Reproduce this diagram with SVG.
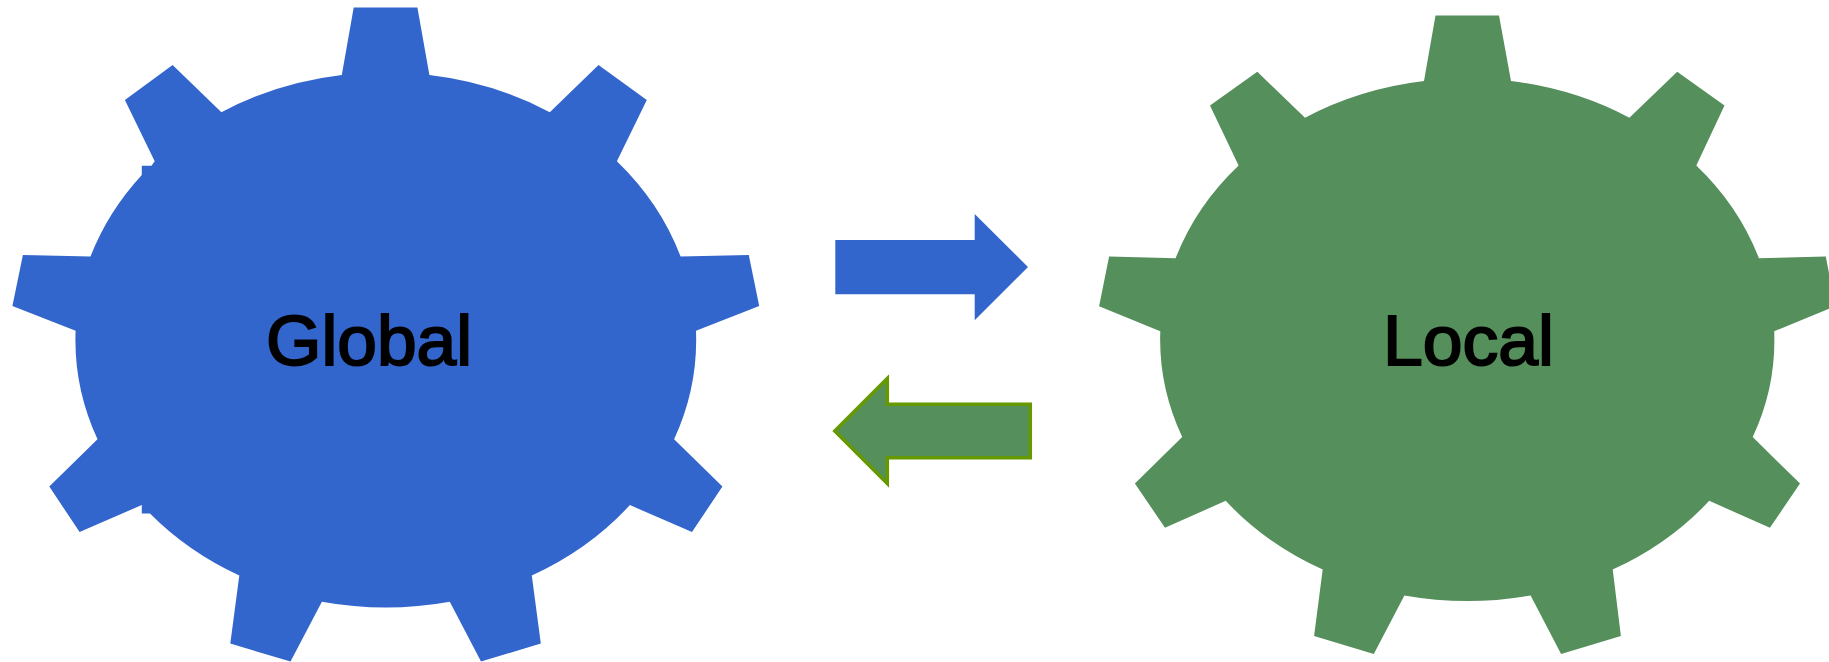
<svg xmlns="http://www.w3.org/2000/svg" width="1829" height="662" viewBox="0 0 1829 662">
<style>
.blue{fill:#3366cc}
.green{fill:#558f5c}
.label{font-family:"Liberation Sans",Arial,sans-serif;font-size:70px;fill:#000;stroke:#000;stroke-width:2px}
</style>
<rect width="1829" height="662" fill="#fff"/>
<g id="node-global">
<path class="blue" d="M353.7 7.6H417.4L429.4 75.1A310 268 0 0 1 549.8 112.2L598.5 65L646.8 100L616.9 161.2A310 268 0 0 1 680.6 256.5L748.8 254.9L759.2 305.9L696 330.8A310 268 0 0 1 674.1 439.2L722.4 486.5L692 532.1L629.9 505.1A310 268 0 0 1 531.8 575.5L540.8 643.5L481 661.6L449.8 601.7A310 268 0 0 1 321.9 601.7L290.5 661.6L230.3 643.5L239.3 575.5A310 268 0 0 1 150 513.5H141.8V505L79.6 532.1L49.3 486.5L97.5 439.2A310 268 0 0 1 75.6 330.8L12.4 305.9L22.9 254.9L90.5 256.5A310 268 0 0 1 141.8 175V165.8H151.5L154.7 161.2L124.9 100L172.6 65L221.4 112.2A310 268 0 0 1 341.8 75.1Z"/>
<text class="label" x="266" y="364.5" textLength="206" lengthAdjust="spacingAndGlyphs">Global</text>
</g>
<g id="node-local">
<path class="green" d="M1435.5 15.6H1499L1511 81A307 262 0 0 1 1629.4 117.7L1677.2 71.7L1724.5 105.5L1696.3 165.4A307 262 0 0 1 1758.9 258.2L1825.8 256.5L1835.3 306.3L1774.2 331.2A307 262 0 0 1 1752.7 437.1L1800 483.5L1769.9 527.8L1709.2 500.8A307 262 0 0 1 1612.7 569.6L1620.9 635.9L1561.1 654L1530.6 595.4A307 262 0 0 1 1404.4 595.4L1373.8 654L1314.1 635.9L1322.7 569.6A307 262 0 0 1 1225.7 500.8L1165 527.8L1134.9 483.5L1182.2 437.1A307 262 0 0 1 1160.3 331.2L1099.1 306.3L1109.1 256.5L1175.6 258.2A307 262 0 0 1 1238.6 165.4L1210 105.5L1257.3 71.7L1305 117.7A307 262 0 0 1 1424 81Z"/>
<text class="label" x="1383" y="364.5" textLength="171" lengthAdjust="spacingAndGlyphs">Local</text>
</g>
<g id="connectors">
<polygon class="blue" points="835.3,240 974.7,240 974.7,214 1028,267 974.7,320.3 974.7,294.3 835.3,294.3"/>
<polygon class="green" stroke="#669900" stroke-width="3.5" points="834.8,431 887.3,378.5 887.3,404.3 1030.3,404.3 1030.3,457.7 887.3,457.7 887.3,483.5"/>
</g>
</svg>
